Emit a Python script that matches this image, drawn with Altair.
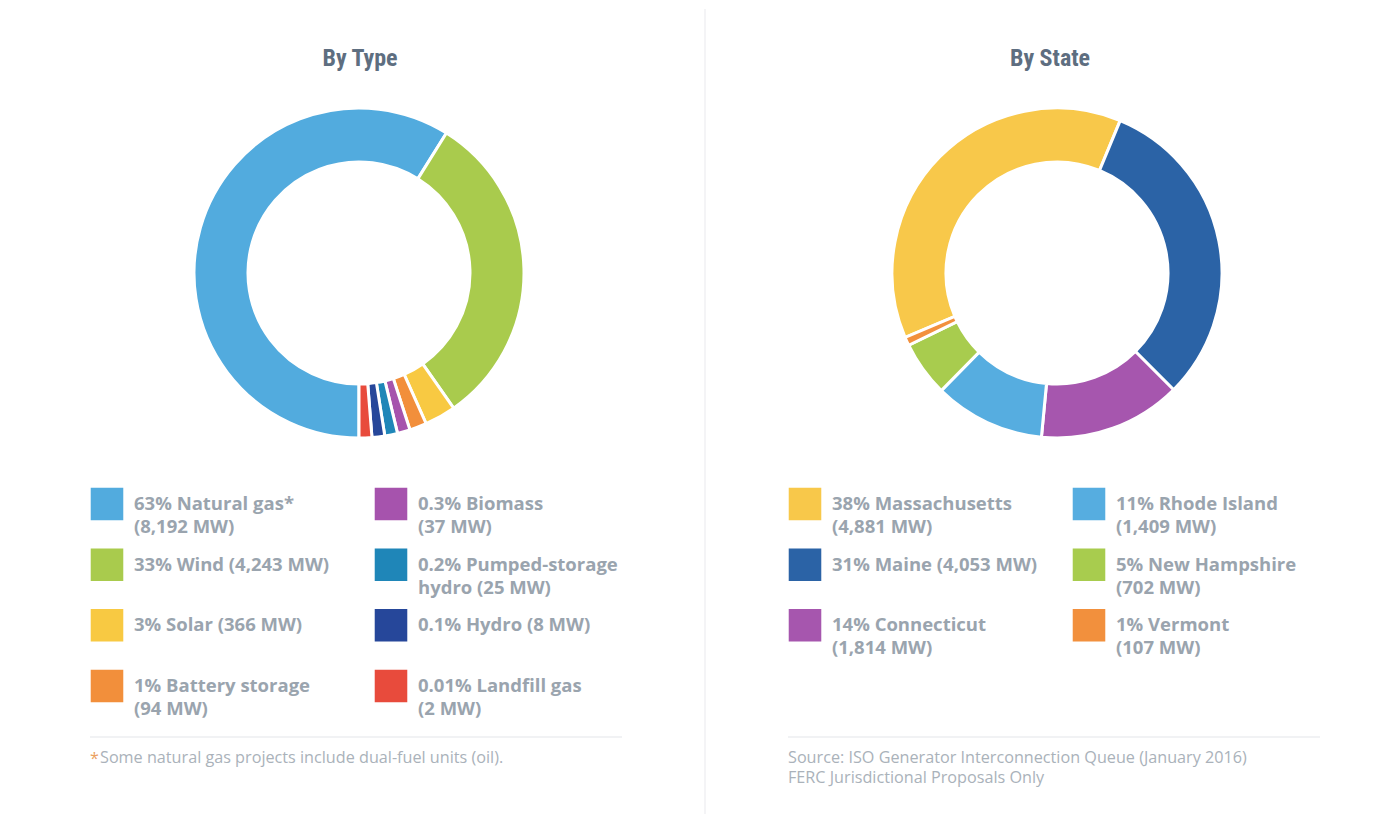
import math
import pandas as pd
import altair as alt

# ---------------- By Type ----------------
type_names = ["Natural gas", "Wind", "Solar", "Battery storage", "Biomass",
              "Pumped-storage hydro", "Hydro", "Landfill gas"]
type_mw = [8192, 4243, 366, 94, 37, 25, 8, 2]
# share of the ring (degrees) as drawn in the picture (tiny types drawn enlarged)
type_arc_deg = [212, 113, 11, 6, 4.5, 4.5, 4.5, 4.5]
type_labels = ["63% Natural gas*\n(8,192 MW)", "33% Wind (4,243 MW)", "3% Solar (366 MW)",
               "1% Battery storage\n(94 MW)", "0.3% Biomass\n(37 MW)",
               "0.2% Pumped-storage\nhydro (25 MW)", "0.1% Hydro (8 MW)",
               "0.01% Landfill gas\n(2 MW)"]
type_colors = ["#52abde", "#a9cb4d", "#f8c942", "#f28f3b", "#a653ad",
               "#1f86b8", "#26479a", "#e84b3c"]

# ---------------- By State ----------------
state_names = ["Massachusetts", "Maine", "Connecticut", "Rhode Island",
               "New Hampshire", "Vermont"]
state_mw = [4881, 4053, 1814, 1409, 702, 107]
state_labels = ["38% Massachusetts\n(4,881 MW)", "31% Maine (4,053 MW)",
                "14% Connecticut\n(1,814 MW)", "11% Rhode Island\n(1,409 MW)",
                "5% New Hampshire\n(702 MW)", "1% Vermont\n(107 MW)"]
state_colors = ["#f8c84a", "#2b63a6", "#a656ae", "#56ade0", "#a8cc4e", "#f2903d"]

type_note = ["Some natural gas projects include dual-fuel units (oil)."]
state_note = ["Source: ISO Generator Interconnection Queue (January 2016)",
              "FERC Jurisdictional Proposals Only"]

TEXT_GREY = "#9aa4ae"
NOTE_GREY = "#aab2ba"
TITLE_COL = "#5e6e80"
TITLE_FONT = "Roboto Condensed, Liberation Sans Narrow, DejaVu Sans Condensed, Roboto"
BODY_FONT = "Open Sans"
H = 805


def one(text):
    return pd.DataFrame({"t": [text]})


def panel(names, vals, labels, colors, rows_per_col, title, title_x, start_deg,
          notes, width, star=False, vsep=False):
    n = len(names)
    df = pd.DataFrame({
        "name": names, "val": vals, "label": labels,
        "idx": list(range(n)),
        "col": [i // rows_per_col for i in range(n)],
        "row": [i % rows_per_col for i in range(n)],
    })
    color = alt.Color("name:N", scale=alt.Scale(domain=names, range=colors), legend=None)
    total = float(sum(vals))
    start = math.radians(start_deg)
    ring = alt.Chart(df).mark_arc(outerRadius=165, innerRadius=111,
                                  stroke="white", strokeWidth=3).encode(
        theta=alt.Theta("val:Q", stack=True,
                        scale=alt.Scale(domain=[0, total], range=[start, start + 2 * math.pi])),
        order=alt.Order("idx:Q", sort="ascending"),
        color=color,
        x=alt.value(351), y=alt.value(264),
    )
    xs = alt.X("col:Q", scale=alt.Scale(domain=[0, 1], range=[99, 383], nice=False, zero=False), axis=None)
    ys = alt.Y("row:Q", scale=alt.Scale(domain=[0, 3], range=[495, 677], nice=False, zero=False), axis=None)
    squares = alt.Chart(df).mark_square(size=1060, opacity=1).encode(x=xs, y=ys, color=color)
    texts = alt.Chart(df).mark_text(align="left", baseline="middle", dx=27, fontSize=18.5,
                                    fontWeight="bold", font=BODY_FONT, color=TEXT_GREY,
                                    lineBreak="\n", lineHeight=23).encode(
        x=xs, y=ys, text="label:N")
    ttl = alt.Chart(one(title)).mark_text(font=TITLE_FONT, fontSize=24, fontWeight="bold",
                                          color=TITLE_COL, align="center", baseline="middle").encode(
        x=alt.value(title_x), y=alt.value(50), text="t:N")
    sep = alt.Chart(one("")).mark_rule(color="#eceef1", strokeWidth=1.5).encode(
        x=alt.value(82), x2=alt.value(614), y=alt.value(728))
    layers = [ring, squares, texts, ttl, sep]
    note_x = 82
    if star:
        layers.append(alt.Chart(one("*")).mark_text(font=BODY_FONT, fontSize=16, color="#eba060",
                                                    align="left", baseline="middle").encode(
            x=alt.value(note_x), y=alt.value(750), text="t:N"))
        note_x = 92
    for k, line in enumerate(notes):
        layers.append(alt.Chart(one(line)).mark_text(font=BODY_FONT, fontSize=16.2, color=NOTE_GREY,
                                                     align="left", baseline="middle").encode(
            x=alt.value(note_x), y=alt.value(749 + 20 * k), text="t:N"))
    if vsep:
        layers.append(alt.Chart(one("")).mark_rule(color="#f0f1f3", strokeWidth=1.5).encode(
            x=alt.value(width - 1), y=alt.value(0), y2=alt.value(H)))
    return alt.layer(*layers).properties(width=width, height=H)


left = panel(type_names, type_arc_deg, type_labels, type_colors, 4, "By Type", 352, 180,
             type_note, 698, star=True, vsep=True)
right = panel(state_names, state_mw, state_labels, state_colors, 3, "By State", 344, 247,
              state_note, 673)

chart = alt.hconcat(left, right, spacing=0).resolve_scale(
    color="independent", theta="independent", x="independent", y="independent"
).properties(
    padding=0, background="white"
).configure_view(stroke=None)

chart.save("out.html", embed_options={"renderer": "svg", "actions": False})
